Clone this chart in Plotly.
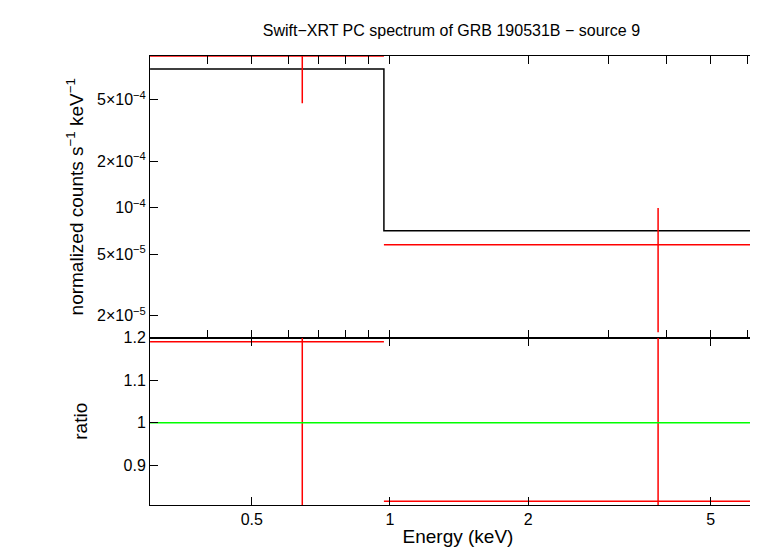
import plotly.graph_objects as go
from plotly.subplots import make_subplots

# bins (keV)
bin_lo = [0.3, 0.97]
bin_hi = [0.97, 6.6]
energy = [0.644, 3.84]
counts = [9.6e-4, 5.77e-5]
counts_err = [4.85e-4, 4.2e-5]
model = [7.9e-4, 7.1e-5]
ratio = [1.19, 0.816]
ratio_err = [0.6, 0.6]

RED = "#ff0000"
fig = make_subplots(rows=2, cols=1, shared_xaxes=True, vertical_spacing=0,
                    row_heights=[0.627, 0.373])

fig.add_trace(go.Scatter(
    x=bin_lo + [bin_hi[-1]], y=model + [model[-1]], mode="lines",
    line=dict(color="black", width=1.5, shape="hv"), showlegend=False), row=1, col=1)

xp = [h - e for h, e in zip(bin_hi, energy)]
xm = [e - l for e, l in zip(energy, bin_lo)]
for r, yv, ye in [(1, counts, counts_err), (2, ratio, ratio_err)]:
    fig.add_trace(go.Scatter(
        x=energy, y=yv, mode="markers", marker=dict(size=1, color=RED),
        error_x=dict(type="data", array=xp, arrayminus=xm, color=RED, width=0, thickness=1.5),
        error_y=dict(type="data", array=ye, color=RED, width=0, thickness=1.5),
        showlegend=False, cliponaxis=True), row=r, col=1)

fig.add_trace(go.Scatter(x=[0.3, 6.6], y=[1, 1], mode="lines",
                         line=dict(color="#00ff00", width=1.5), showlegend=False), row=2, col=1)

axis = dict(showline=True, linecolor="black", linewidth=1, mirror="ticks", ticks="inside",
            ticklen=8, tickcolor="black", showgrid=False, zeroline=False)
fig.update_xaxes(type="log", range=[-0.523, 0.8195], **axis)
fig.update_xaxes(tickvals=[0.5, 1, 2, 5], ticktext=["0.5", "1", "2", "5"],
                 title=dict(text="Energy (keV)", standoff=2), row=2, col=1)
fig.update_yaxes(type="log", range=[-4.839, -3.018],
                 tickvals=[2e-5, 5e-5, 1e-4, 2e-4, 5e-4],
                 ticktext=["2×10<sup>−5</sup>", "5×10<sup>−5</sup>", "10<sup>−4</sup>",
                           "2×10<sup>−4</sup>", "5×10<sup>−4</sup>"],
                 title=dict(text="normalized counts s<sup>−1</sup> keV<sup>−1</sup>", standoff=8),
                 row=1, col=1, **axis)
fig.update_yaxes(range=[0.807, 1.2], tickvals=[0.9, 1, 1.1, 1.2],
                 ticktext=["0.9", "1", "1.1", "1.2"],
                 title=dict(text="ratio", standoff=30), row=2, col=1, **axis)

fig.update_layout(
    width=758, height=556, plot_bgcolor="white", paper_bgcolor="white",
    margin=dict(l=142, r=0, t=48, b=59),
    font=dict(family="Liberation Sans, Arial", size=16, color="black"),
    title=dict(text="Swift−XRT PC spectrum of GRB 190531B − source 9",
               x=0.585, xanchor="center", y=0.97, font=dict(size=16)),
)
fig.write_html("out.html")
